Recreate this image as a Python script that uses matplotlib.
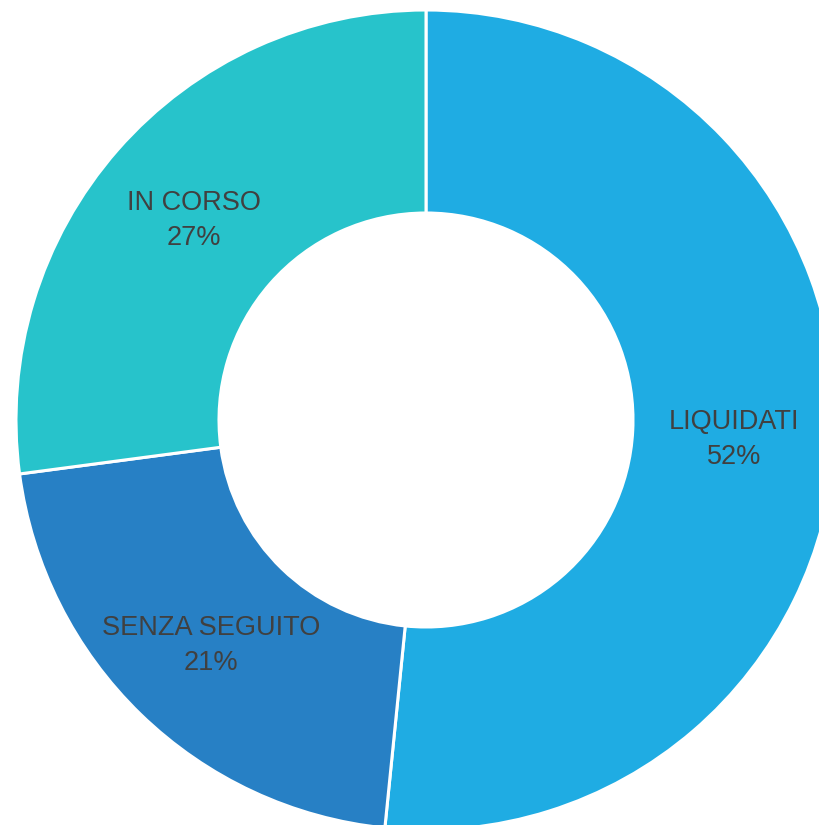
import numpy as np
import matplotlib.pyplot as plt

labels = ["LIQUIDATI", "SENZA SEGUITO", "IN CORSO"]
shares = [51.6, 21.3, 27.1]
colors = ["#1facE3", "#2780c5", "#27c3cb"]

plt.rcParams['font.family'] = ['Liberation Sans', 'DejaVu Sans']

fig = plt.figure(figsize=(8.2, 8.25), dpi=100)
ax = fig.add_axes([0, 0, 1, 1])

center = (426, 405)
r_out, r_in = 410, 207

wedges, _ = ax.pie(shares, colors=colors, startangle=90, counterclock=False,
                   radius=r_out, center=center, frame=True,
                   wedgeprops=dict(width=r_out - r_in, edgecolor='white', linewidth=2.2))
ax.set_xlim(0, 820)
ax.set_ylim(0, 825)
ax.set_aspect('equal')
ax.axis('off')

# labels sit in the middle of the ring, at each wedge's mid angle
r_mid = (r_out + r_in) / 2
for w, lab, s in zip(wedges, labels, shares):
    ang = np.deg2rad((w.theta1 + w.theta2) / 2)
    x = center[0] + r_mid * np.cos(ang)
    y = center[1] + r_mid * np.sin(ang) - 4
    ax.text(x, y, f"{lab}\n{s:.0f}%", ha='center', va='center', fontsize=19.5,
            color='#404040', linespacing=1.45)

fig.savefig("out.png", dpi=100)
